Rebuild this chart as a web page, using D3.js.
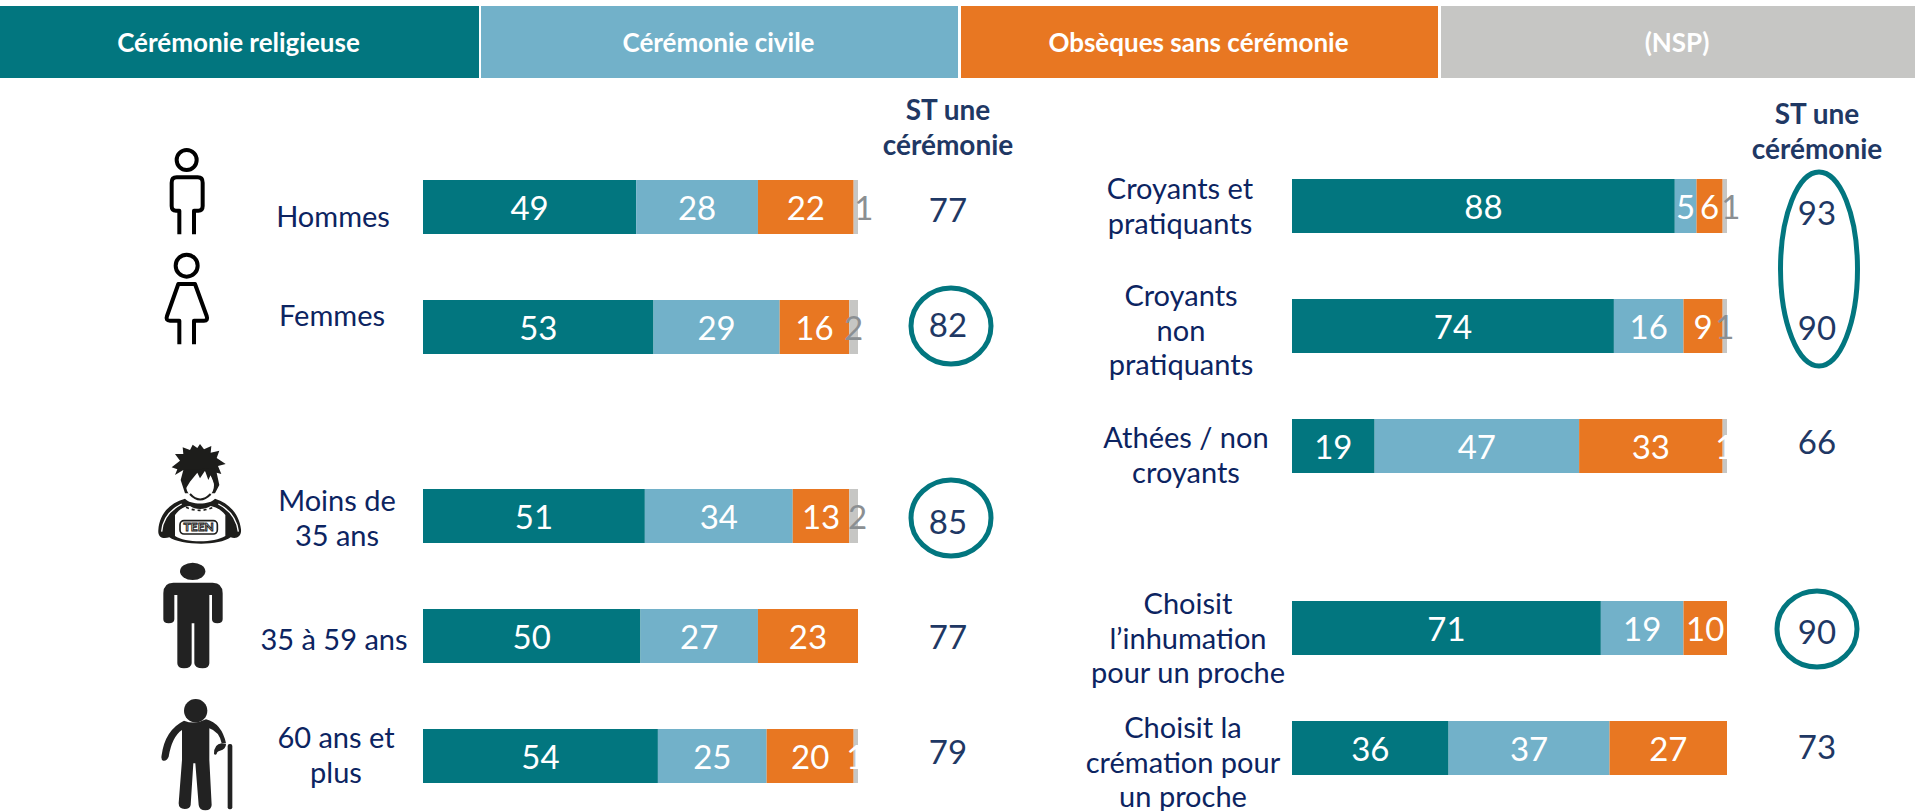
<!DOCTYPE html>
<html>
<head>
<meta charset="utf-8">
<script src="https://cdn.jsdelivr.net/npm/d3@7"></script>
<style>
  html, body { margin: 0; padding: 0; background: #fff; overflow: hidden; }
  text { font-family: Lato, "Open Sans", sans-serif; }
</style>
</head>
<body>
<div id="chart-container"></div>
<script>
const w = 1915;
const h = 811;

// data
const seriesNames = ["Cérémonie religieuse", "Cérémonie civile", "Obsèques sans cérémonie", "(NSP)"];
const seriesKeys = ["religieuse", "civile", "sans", "nsp"];
const totalTitle = ["ST une", "cérémonie"];

const leftLabels = [["Hommes"], ["Femmes"], ["Moins de", "35 ans"], ["35 à 59 ans"], ["60 ans et", "plus"]];
const leftReligieuse = [49, 53, 51, 50, 54];
const leftCivile = [28, 29, 34, 27, 25];
const leftSans = [22, 16, 13, 23, 20];
const leftNsp = [1, 2, 2, 0, 1];
const leftTotal = [77, 82, 85, 77, 79];

const rightLabels = [
  ["Croyants et", "pratiquants"],
  ["Croyants", "non", "pratiquants"],
  ["Athées / non", "croyants"],
  ["Choisit", "l’inhumation", "pour un proche"],
  ["Choisit la", "crémation pour", "un proche"]
];
const rightReligieuse = [88, 74, 19, 71, 36];
const rightCivile = [5, 16, 47, 19, 37];
const rightSans = [6, 9, 33, 10, 27];
const rightNsp = [1, 1, 1, 0, 0];
const rightTotal = [93, 90, 66, 90, 73];

// colours
const color = d3.scaleOrdinal().domain(seriesKeys).range(["#02767f", "#72b1c9", "#e87722", "#c6c6c4"]);
const navy = "#0c2461";
const slate = "#1f3864";
const teal = "#02767f";

const svg = d3.select("#chart-container")
  .append("svg")
  .attr("width", w)
  .attr("height", h)
  .style("display", "block");

// legend band on top
const bandX = d3.scaleOrdinal().domain(seriesNames).range([0, 481, 961, 1441]);
const bandW = d3.scaleOrdinal().domain(seriesNames).range([479, 477, 477, 474]);
const band = svg.append("g").selectAll("g")
  .data(seriesNames)
  .join("g");
band.append("rect")
  .attr("x", d => bandX(d))
  .attr("y", 6)
  .attr("width", d => bandW(d))
  .attr("height", 72)
  .attr("fill", (d, i) => color(seriesKeys[i]));
band.append("text")
  .attr("x", d => bandX(d) + bandW(d) / 2 - 1)
  .attr("y", 52)
  .attr("text-anchor", "middle")
  .attr("fill", "#fff")
  .attr("font-weight", 700)
  .attr("font-size", 26)
  .text(d => d);

// one block of stacked bars
function drawBlock(o) {
  const rows = o.labels.map((l, i) => ({
    id: i,
    religieuse: o.religieuse[i],
    civile: o.civile[i],
    sans: o.sans[i],
    nsp: o.nsp[i]
  }));
  const x = d3.scaleLinear().domain([0, 100]).range(o.xRange);
  const y = d3.scaleOrdinal().domain(d3.range(rows.length)).range(o.tops);
  const stacked = d3.stack().keys(seriesKeys)(rows);

  svg.append("clipPath").attr("id", o.clip)
    .append("rect")
    .attr("x", o.xRange[0]).attr("y", 0)
    .attr("width", o.xRange[1] - o.xRange[0]).attr("height", h);

  const g = svg.append("g");
  const layer = g.selectAll("g")
    .data(stacked)
    .join("g")
    .attr("fill", d => color(d.key));

  layer.selectAll("rect")
    .data(d => d.filter(p => p[1] > p[0]))
    .join("rect")
    .attr("x", d => x(d[0]))
    .attr("y", d => y(d.data.id))
    .attr("width", d => x(d[1]) - x(d[0]))
    .attr("height", 54);

  // values inside the bars, drawn over every segment
  const vals = g.append("g");
  stacked.forEach(s => {
    const isNsp = s.key === "nsp";
    vals.append("g")
      .selectAll("text")
      .data(s.filter(p => p[1] > p[0]))
      .join("text")
      .attr("x", d => (x(d[0]) + x(d[1])) / 2 + (isNsp ? o.nspShift[d.data.id] : 0))
      .attr("y", d => y(d.data.id) + 40)
      .attr("text-anchor", "middle")
      .attr("font-size", 33)
      .attr("fill", d => {
        if (!isNsp) return "#fff";
        return o.whiteNsp.includes(d.data.id) ? "#fff" : "#8b8f92";
      })
      .attr("clip-path", d => isNsp && o.whiteNsp.includes(d.data.id) ? `url(#${o.clip})` : null)
      .text(d => d[1] - d[0]);
  });

  // category labels
  const lab = g.selectAll("text.cat")
    .data(o.labels)
    .join("text")
    .attr("class", "cat")
    .attr("text-anchor", "middle")
    .attr("fill", navy)
    .attr("font-size", 29);
  lab.selectAll("tspan")
    .data((d, i) => d.map((t, j) => ({ t, j, i })))
    .join("tspan")
    .attr("x", d => o.labelX[d.i])
    .attr("y", d => o.labelY[d.i] + d.j * 34.5)
    .text(d => d.t);

  // totals column
  g.selectAll("text.total")
    .data(o.total)
    .join("text")
    .attr("class", "total")
    .attr("x", o.totalX)
    .attr("y", (d, i) => o.totalY[i])
    .attr("text-anchor", "middle")
    .attr("fill", slate)
    .attr("font-size", 33)
    .text(d => d);

  g.selectAll("text.head")
    .data(totalTitle)
    .join("text")
    .attr("class", "head")
    .attr("x", o.totalX)
    .attr("y", (d, i) => o.headY + i * 35)
    .attr("text-anchor", "middle")
    .attr("fill", slate)
    .attr("font-weight", 700)
    .attr("font-size", 28)
    .text(d => d);
}

drawBlock({
  labels: leftLabels, religieuse: leftReligieuse, civile: leftCivile, sans: leftSans, nsp: leftNsp, total: leftTotal,
  xRange: [423, 858],
  tops: [180, 300, 489, 609, 729],
  labelX: [333, 332, 337, 334, 336],
  labelY: [227, 326, 511, 650, 748],
  totalX: 948,
  totalY: [222, 337, 534, 649, 764],
  headY: 120,
  nspShift: [8, 0, 4, 0, 0],
  whiteNsp: [4],
  clip: "clip-left"
});

drawBlock({
  labels: rightLabels, religieuse: rightReligieuse, civile: rightCivile, sans: rightSans, nsp: rightNsp, total: rightTotal,
  xRange: [1292, 1727],
  tops: [179, 299, 419, 601, 721],
  labelX: [1180, 1181, 1186, 1188, 1183],
  labelY: [199, 306, 448, 614, 738],
  totalX: 1817,
  totalY: [225, 340, 454, 644, 759],
  headY: 124,
  nspShift: [6, 0, 0, 0, 0],
  whiteNsp: [2],
  clip: "clip-right"
});

// highlight rings
const rings = svg.append("g")
  .attr("fill", "none")
  .attr("stroke", teal)
  .attr("stroke-width", 5);
rings.append("ellipse").attr("cx", 951).attr("cy", 326).attr("rx", 40).attr("ry", 38);
rings.append("ellipse").attr("cx", 951).attr("cy", 518).attr("rx", 40).attr("ry", 38);
rings.append("ellipse").attr("cx", 1819).attr("cy", 269).attr("rx", 38.5).attr("ry", 97);
rings.append("ellipse").attr("cx", 1817).attr("cy", 629).attr("rx", 40).attr("ry", 38);

// pictograms, drawn at 3x then scaled down
function icon(x, y) {
  return svg.append("g").attr("transform", `translate(${x},${y}) scale(${1 / 3})`);
}

const man = icon(130, 140).attr("fill", "none").attr("stroke", "#000").attr("stroke-width", 12).attr("stroke-linejoin", "round");
man.append("circle").attr("cx", 170).attr("cy", 60).attr("r", 30);
man.append("path").attr("d", "M148 283V212H138Q125 212 125 198V128Q125 112 140 112H203Q218 112 218 128V198Q218 212 205 212H192V283");

const woman = icon(130, 140).attr("fill", "none").attr("stroke", "#000").attr("stroke-width", 12).attr("stroke-linejoin", "round");
woman.append("circle").attr("cx", 170).attr("cy", 377).attr("r", 33);
woman.append("path").attr("d", "M148 613V542H120Q106 542 111 528L145 432H195L230 528Q235 542 222 542H192V613");

const teen = icon(140, 430);
teen.append("path").attr("fill", "#1d1d1b")
  .attr("d", "M95 112L120 92L105 72L130 72L128 52L150 60L158 44L172 54L180 42L192 58L214 48L212 68L238 62L230 84L257 102L234 108L244 132L230 128L238 165L225 190L135 190L122 150L130 120L105 135L112 118Z");
teen.append("ellipse").attr("cx", 180).attr("cy", 165).attr("rx", 42).attr("ry", 44).attr("fill", "#fff");
teen.append("path").attr("fill", "#1d1d1b")
  .attr("d", "M135 120L222 115L226 170L212 135L205 150L195 122L180 145L172 128L150 155L138 175Z");
teen.append("path").attr("fill", "none").attr("stroke", "#1d1d1b").attr("stroke-width", 6)
  .attr("d", "M150 192Q180 225 212 192");
teen.append("path").attr("fill", "#1d1d1b")
  .attr("d", "M135 206C85 220 58 255 55 300C53 322 68 328 88 322C120 345 235 350 272 322C290 328 305 320 303 298C298 255 270 220 225 206C210 225 150 225 135 206Z");
teen.append("path").attr("fill", "#fff")
  .attr("d", "M105 255C120 235 135 228 150 228C165 240 195 240 212 228C230 232 245 240 256 255V318C220 340 135 338 105 318Z");
teen.append("path").attr("fill", "none").attr("stroke", "#fff").attr("stroke-width", 4)
  .attr("d", "M65 305C68 265 90 240 125 222M295 305C290 265 270 240 235 222");
teen.append("path").attr("fill", "none").attr("stroke", "#1d1d1b").attr("stroke-width", 5).attr("stroke-dasharray", "9 9")
  .attr("d", "M138 232Q178 250 220 232");
teen.append("rect").attr("x", 120).attr("y", 272).attr("width", 112).attr("height", 40).attr("rx", 12)
  .attr("fill", "#fff").attr("stroke", "#1d1d1b").attr("stroke-width", 5);
teen.append("text").attr("x", 176).attr("y", 304).attr("text-anchor", "middle")
  .attr("font-size", 36).attr("font-weight", 700).attr("fill", "#fff").attr("stroke", "#1d1d1b").attr("stroke-width", 3)
  .text("TEEN");

const adult = icon(140, 560).attr("fill", "#222");
adult.append("ellipse").attr("cx", 158).attr("cy", 34).attr("rx", 38).attr("ry", 26);
adult.append("path").attr("d", "M100 68H218Q248 68 248 100V178Q248 190 232 190Q216 190 216 178V105H208V310Q208 325 188 325Q164 325 163 310V190H155V310Q154 325 132 325Q112 325 112 310V105H103V178Q103 190 86 190Q70 190 70 178V100Q70 68 100 68Z");

const elder = icon(140, 560).attr("fill", "#222");
elder.append("circle").attr("cx", 167).attr("cy", 452).attr("r", 35);
elder.append("path").attr("d", "M132 482Q165 495 198 478Q245 490 258 550H245Q238 515 208 505V600L215 735Q214 751 196 751Q178 751 176 735L166 610H160L152 735Q150 747 134 747Q116 747 116 730L126 600V510Q96 530 86 590Q80 604 70 602Q62 600 65 585Q75 510 132 482Z");
elder.append("path").attr("d", "M222 582Q222 552 245 550L258 552Q258 568 240 572Q230 575 230 582Q226 586 222 582Z");
elder.append("rect").attr("x", 263).attr("y", 552).attr("width", 14).attr("height", 196).attr("rx", 6);
</script>
</body>
</html>
